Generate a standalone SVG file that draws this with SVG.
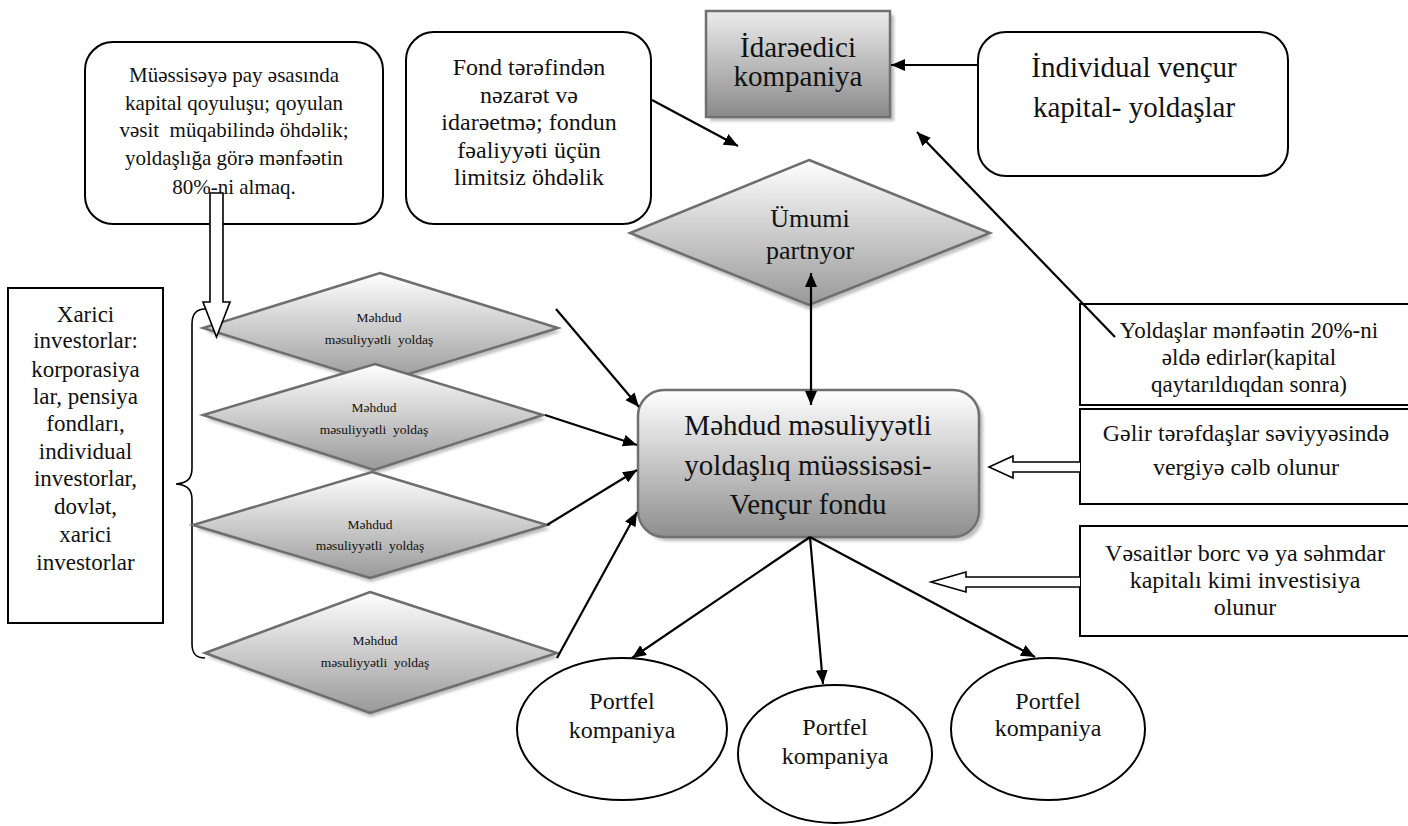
<svg xmlns="http://www.w3.org/2000/svg" width="1408" height="826" viewBox="0 0 1408 826">
  <defs>
    <linearGradient id="gBox" x1="0" y1="0" x2="0" y2="1">
      <stop offset="0" stop-color="#ffffff"/>
      <stop offset="1" stop-color="#8e8e8e"/>
    </linearGradient>
    <linearGradient id="gHead" x1="0" y1="0" x2="0" y2="1">
      <stop offset="0" stop-color="#ececec"/>
      <stop offset="1" stop-color="#8a8a8a"/>
    </linearGradient>
    <linearGradient id="gDia" x1="0" y1="0" x2="0" y2="1">
      <stop offset="0" stop-color="#ffffff"/>
      <stop offset="1" stop-color="#999999"/>
    </linearGradient>
    <filter id="soft" x="-10%" y="-10%" width="120%" height="130%">
      <feGaussianBlur stdDeviation="1.5"/>
    </filter>
    <marker id="ah" viewBox="0 0 14 12" refX="14" refY="6" markerWidth="14" markerHeight="12" markerUnits="userSpaceOnUse" orient="auto-start-reverse">
      <path d="M0,0 L14,6 L0,12 Z" fill="#000"/>
    </marker>
    <style>
      text { font-family: "Liberation Serif", "Times New Roman", serif; fill: #111; text-anchor: middle; }
      .plain { fill: #fff; stroke: #000; stroke-width: 2; }
      .shade { fill: #bdbdbd; filter: url(#soft); }
      .gbox { fill: url(#gBox); stroke: #707070; stroke-width: 2.5; }
      .dia { fill: url(#gDia); stroke: #6e6e6e; stroke-width: 2.5; }
      .link { fill: none; stroke: #000; stroke-width: 2.2; marker-end: url(#ah); }
      .hollow { fill: #fff; stroke: #000; stroke-width: 1.6; stroke-linejoin: miter; }
      .brace { fill: none; stroke: #000; stroke-width: 1.6; }
      .f13 { font-size: 13.5px; }
      .f21 { font-size: 21px; }
      .f23 { font-size: 23px; }
      .f24 { font-size: 24px; }
      .f26 { font-size: 26px; }
      .f29 { font-size: 29px; }
    </style>
  </defs>

  <rect width="1408" height="826" fill="#fff"/>

  <!-- limited partners' contribution note -->
  <g id="note-contribution">
    <rect class="plain" x="85" y="42" width="298" height="182" rx="28"/>
    <text class="f21" x="234" y="82">Müəssisəyə pay əsasında</text>
    <text class="f21" x="234" y="110">kapital qoyuluşu; qoyulan</text>
    <text class="f21" x="234" y="137" xml:space="preserve">vəsit  müqabilində öhdəlik;</text>
    <text class="f21" x="234" y="165">yoldaşlığa görə mənfəətin</text>
    <text class="f21" x="234" y="194">80%-ni almaq.</text>
  </g>

  <!-- general partner duties note -->
  <g id="note-control">
    <rect class="plain" x="406" y="32" width="245" height="192" rx="28"/>
    <text class="f24" x="529" y="75">Fond tərəfindən</text>
    <text class="f24" x="529" y="103">nəzarət və</text>
    <text class="f24" x="529" y="130">idarəetmə; fondun</text>
    <text class="f24" x="529" y="158">fəaliyyəti üçün</text>
    <text class="f24" x="529" y="185">limitsiz öhdəlik</text>
  </g>

  <!-- management company -->
  <g id="management-company">
    <rect class="shade" x="710" y="15" width="184" height="106"/>
    <rect x="706" y="11" width="184" height="106" fill="url(#gHead)" stroke="#707070" stroke-width="2.5"/>
    <text class="f29" x="798" y="57">İdarəedici</text>
    <text class="f29" x="798" y="86">kompaniya</text>
  </g>

  <!-- individual venture capitalists -->
  <g id="individual-vc">
    <rect class="plain" x="978" y="32" width="310" height="144" rx="28"/>
    <text class="f29" x="1134" y="77">İndividual vençur</text>
    <text class="f29" x="1134" y="117">kapital- yoldaşlar</text>
  </g>

  <!-- general partner -->
  <g id="general-partner">
    <polygon class="shade" points="810,164 993,237 810,310 633,237"/>
    <polygon class="dia" points="809,160 990,233 809,305 630,233"/>
    <text class="f26" x="810" y="227">Ümumi</text>
    <text class="f26" x="810" y="259">partnyor</text>
  </g>

  <!-- external investors -->
  <g id="external-investors">
    <rect x="8" y="288" width="155" height="335" fill="#fff" stroke="#000" stroke-width="2"/>
    <text class="f23" x="85.5" y="322">Xarici</text>
    <text class="f23" x="85.5" y="348">investorlar:</text>
    <text class="f23" x="85.5" y="377">korporasiya</text>
    <text class="f23" x="85.5" y="404">lar, pensiya</text>
    <text class="f23" x="85.5" y="431">fondları,</text>
    <text class="f23" x="85.5" y="459">individual</text>
    <text class="f23" x="85.5" y="486">investorlar,</text>
    <text class="f23" x="85.5" y="514">dovlət,</text>
    <text class="f23" x="85.5" y="542">xarici</text>
    <text class="f23" x="85.5" y="570">investorlar</text>
  </g>

  <!-- brace grouping the limited partners -->
  <g id="lp-brace">
    <path class="brace" d="M205,309 C196,309 192,314 192,324 L192,468 C192,478 188,483 176,484 C188,485 192,490 192,500 L192,644 C192,654 196,658 205,658"/>
  </g>

  <!-- limited partners -->
  <g id="limited-partner-1">
    <polygon class="shade" points="381,277 561,332 381,387 206,332"/>
    <polygon class="dia" points="380,273 558,328 379,383 203,328"/>
    <text class="f13" x="379" y="322">Məhdud</text>
    <text class="f13" x="379" y="344" xml:space="preserve">məsuliyyətli  yoldaş</text>
  </g>
  <g id="limited-partner-2">
    <polygon class="shade" points="376,368 546,419 375,474 206,419"/>
    <polygon class="dia" points="375,364 543,415 374,470 203,415"/>
    <text class="f13" x="374" y="412">Məhdud</text>
    <text class="f13" x="374" y="434" xml:space="preserve">məsuliyyətli  yoldaş</text>
  </g>
  <g id="limited-partner-3">
    <polygon class="shade" points="373,476 550,529 371,582 196,529"/>
    <polygon class="dia" points="372,472 547,525 370,578 193,525"/>
    <text class="f13" x="370" y="529">Məhdud</text>
    <text class="f13" x="370" y="550" xml:space="preserve">məsuliyyətli  yoldaş</text>
  </g>
  <g id="limited-partner-4">
    <polygon class="shade" points="371,596 560,657 371,717 208,657"/>
    <polygon class="dia" points="370,592 557,653 370,713 205,653"/>
    <text class="f13" x="375" y="645">Məhdud</text>
    <text class="f13" x="375" y="667" xml:space="preserve">məsuliyyətli  yoldaş</text>
  </g>

  <!-- the venture fund itself -->
  <g id="venture-fund">
    <rect class="shade" x="642" y="394" width="341" height="147" rx="26"/>
    <rect class="gbox" x="638" y="390" width="341" height="147" rx="26"/>
    <text class="f29" x="808" y="435">Məhdud məsuliyyətli</text>
    <text class="f29" x="808" y="475">yoldaşlıq müəssisəsi-</text>
    <text class="f29" x="808" y="514">Vençur fondu</text>
  </g>

  <!-- notes on the right edge -->
  <g id="note-profit-share">
    <rect x="1080" y="304" width="340" height="101" fill="#fff" stroke="#000" stroke-width="2"/>
    <text class="f23" x="1249" y="338">Yoldaşlar mənfəətin 20%-ni</text>
    <text class="f23" x="1249" y="365">əldə edirlər(kapital</text>
    <text class="f23" x="1249" y="392">qaytarıldıqdan sonra)</text>
  </g>
  <g id="note-tax">
    <rect x="1080" y="409" width="340" height="95" fill="#fff" stroke="#000" stroke-width="2"/>
    <text class="f24" x="1246" y="441">Gəlir tərəfdaşlar səviyyəsində</text>
    <text class="f24" x="1246" y="475">vergiyə cəlb olunur</text>
  </g>
  <g id="note-investment">
    <rect x="1080" y="526" width="340" height="110" fill="#fff" stroke="#000" stroke-width="2"/>
    <text class="f24" x="1245" y="561">Vəsaitlər borc və ya səhmdar</text>
    <text class="f24" x="1245" y="588">kapitalı kimi investisiya</text>
    <text class="f24" x="1245" y="615">olunur</text>
  </g>

  <!-- portfolio companies -->
  <g id="portfolio-1">
    <ellipse class="plain" cx="622" cy="729" rx="105" ry="71"/>
    <text class="f24" x="622" y="709">Portfel</text>
    <text class="f24" x="622" y="738">kompaniya</text>
  </g>
  <g id="portfolio-2">
    <ellipse class="plain" cx="835" cy="754" rx="97" ry="69"/>
    <text class="f24" x="835" y="735">Portfel</text>
    <text class="f24" x="835" y="764">kompaniya</text>
  </g>
  <g id="portfolio-3">
    <ellipse class="plain" cx="1048" cy="729" rx="97" ry="71"/>
    <text class="f24" x="1048" y="709">Portfel</text>
    <text class="f24" x="1048" y="736">kompaniya</text>
  </g>

  <!-- connectors -->
  <g id="connectors">
    <line class="link" x1="978" y1="65" x2="891" y2="65"/>
    <line class="link" x1="652" y1="100" x2="738" y2="146"/>
    <line class="link" x1="1115" y1="337" x2="917" y2="132"/>
    <line class="link" x1="811" y1="273" x2="811" y2="405" marker-start="url(#ah)"/>
    <line class="link" x1="556" y1="309" x2="639" y2="407"/>
    <line class="link" x1="545" y1="415" x2="637" y2="445"/>
    <line class="link" x1="547" y1="525" x2="637" y2="470"/>
    <line class="link" x1="557" y1="658" x2="637" y2="512"/>
    <line class="link" x1="810" y1="537" x2="632" y2="658"/>
    <line class="link" x1="810" y1="537" x2="823" y2="684"/>
    <line class="link" x1="810" y1="537" x2="1035" y2="657"/>
    <path class="hollow" d="M210,193 L223,193 L223,302 L230,302 L216.5,337 L203,302 L210,302 Z"/>
    <path class="hollow" d="M1080,462 L1013,462 L1013,456 L989,467 L1013,478 L1013,472 L1080,472"/>
    <path class="hollow" d="M1080,577 L966,577 L966,572 L931,582 L966,592 L966,587 L1080,587"/>
  </g>
</svg>
